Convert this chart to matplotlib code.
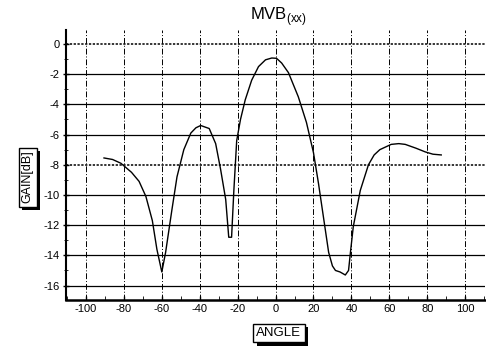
import matplotlib
matplotlib.use("Agg")
import matplotlib.pyplot as plt
from matplotlib.ticker import MultipleLocator
import matplotlib.patheffects as pe

plt.rcParams['font.family'] = ['Liberation Sans', 'DejaVu Sans']
plt.rcParams['axes.unicode_minus'] = False
plt.rcParams['mathtext.fontset'] = 'custom'
plt.rcParams['mathtext.rm'] = 'Liberation Sans'

angle = [-90.5, -86, -81.6, -76, -72, -68.4, -65, -62.6, -60, -58, -54.7, -52, -48.4, -44.7, -42, -39.5, -35,
         -31.6, -29, -26.3, -24.7, -23.2, -22, -20.5, -18.5, -16, -12.6, -9, -5.3, -2, 0.5, 3.2, 6.8, 12, 16.3,
         20, 22.6, 25.3, 28, 30, 31.6, 34, 36.8, 38.5, 39.5, 41, 44.7, 49, 52, 55, 61, 65, 68.4, 74, 79, 83, 87.4]
gain = [-7.55, -7.65, -7.9, -8.5, -9.1, -10.1, -11.7, -13.6, -15.1, -13.8, -11.0, -8.8, -7.0, -5.9, -5.55, -5.4, -5.6,
        -6.6, -8.3, -10.3, -12.8, -12.8, -9.7, -6.4, -5.0, -3.7, -2.4, -1.5, -1.05, -0.93, -0.95, -1.26, -1.9, -3.5, -5.2,
        -7.2, -9.2, -11.5, -13.8, -14.7, -15.0, -15.1, -15.3, -15.0, -13.8, -12.1, -9.7, -8.0, -7.35, -7.0, -6.65, -6.6, -6.65, -6.9, -7.15, -7.3, -7.35]

xticks = [-100, -80, -60, -40, -20, 0, 20, 40, 60, 80, 100]
yticks = [0, -2, -4, -6, -8, -10, -12, -14, -16]

fig = plt.figure(figsize=(4.86, 3.52), dpi=100)
ax = fig.add_axes([0.136, 0.148, 0.862, 0.767])
ax.set_xlim(-110.5, 110.5)
ax.set_ylim(-16.95, 0.93)

for y in yticks:
    if y in (0, -8):
        ax.axhline(y, color='black', lw=1.1, ls=(0, (1.5, 1)), zorder=1)
    else:
        ax.axhline(y, color='black', lw=0.9, zorder=1)
for x in xticks:
    ax.axvline(x, color='black', lw=0.7, ls=(0, (6, 2, 1, 2)), zorder=1)

ax.plot(angle, gain, color='black', lw=1.0, zorder=3)

ax.set_xticks(xticks)
ax.set_yticks(yticks)
ax.xaxis.set_minor_locator(MultipleLocator(10))
ax.yaxis.set_minor_locator(MultipleLocator(1))
ax.tick_params(axis='both', labelsize=8, colors='black', width=1.0)
ax.tick_params(axis='x', direction='in', length=3, which='both', pad=3)
ax.tick_params(axis='y', direction='inout', length=5, which='major', pad=2)
ax.tick_params(axis='y', direction='inout', length=3, which='minor')
for s in ('top', 'right'):
    ax.spines[s].set_visible(False)
ax.spines['left'].set_linewidth(1.5)
ax.spines['bottom'].set_linewidth(1.8)

fig.text(0.572, 0.953, r'MVB$_{\rm (xx)}$', ha='center', va='center', fontsize=12)

box = dict(boxstyle='square,pad=0.25', fc='white', ec='black', lw=1.0)
shadow = [pe.withSimplePatchShadow(offset=(2.5, -2.5), shadow_rgbFace='black', alpha=1.0)]
t1 = fig.text(0.057, 0.497, 'GAIN[dB]', rotation=90, ha='center', va='center', fontsize=9, bbox=box)
t1.get_bbox_patch().set_path_effects(shadow)
t2 = fig.text(0.574, 0.054, 'ANGLE', ha='center', va='center', fontsize=9.5, bbox=box)
t2.get_bbox_patch().set_path_effects(shadow)

fig.savefig('out.png', dpi=100)
